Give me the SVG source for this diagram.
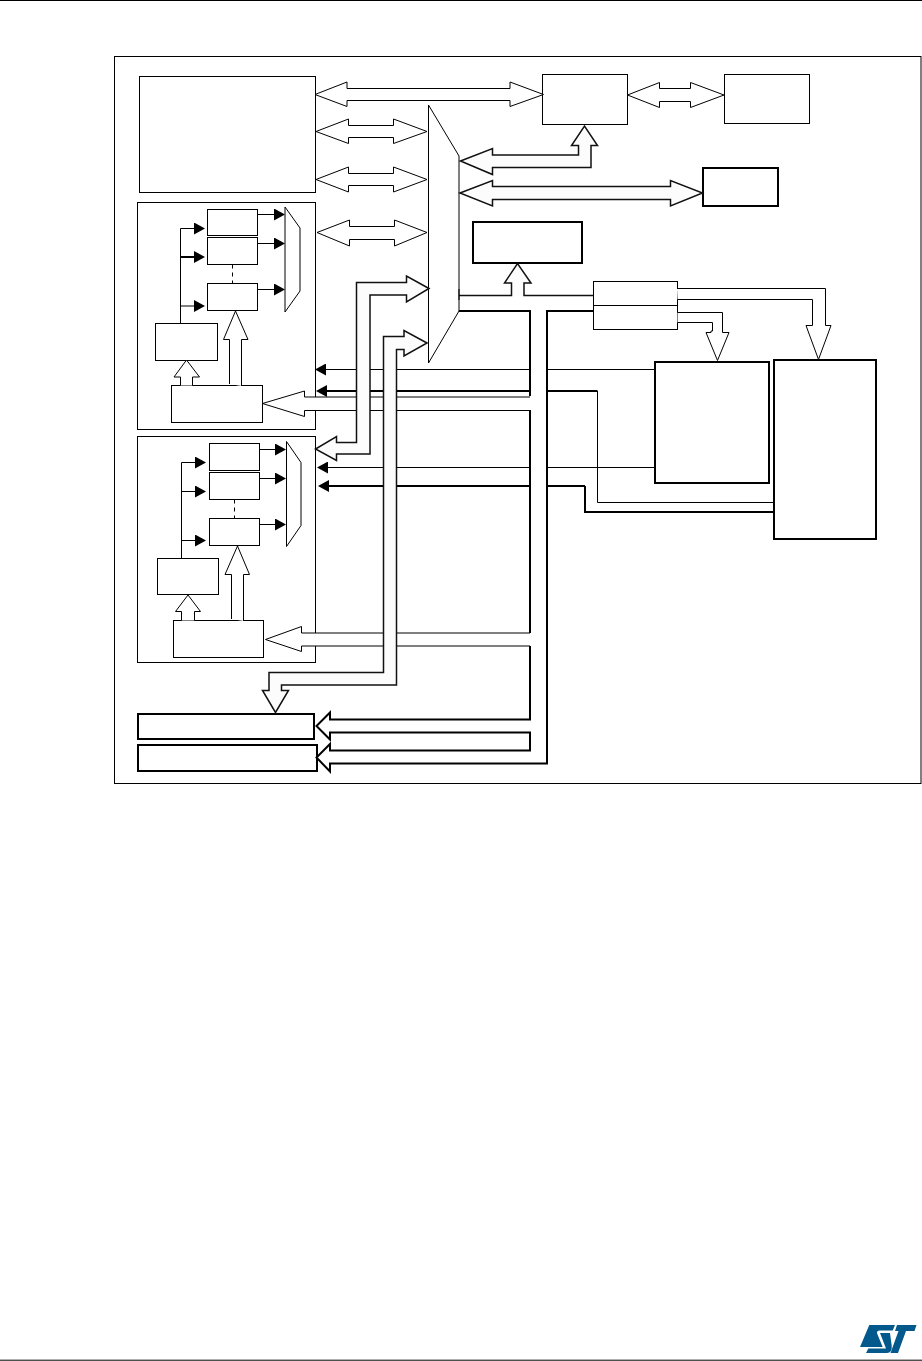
<svg xmlns="http://www.w3.org/2000/svg" width="922" height="1361" viewBox="0 0 922 1361">
<style>
.n{fill:#fff;stroke:#000;stroke-width:1}
.k{fill:#fff;stroke:#000;stroke-width:2}
.l{fill:none;stroke:#000;stroke-width:1}
.t{fill:none;stroke:#000;stroke-width:2}
.m{fill:none;stroke:#000;stroke-width:1;marker-end:url(#h)}
.mt{fill:none;stroke:#000;stroke-width:2;marker-end:url(#h)}
.d{fill:none;stroke:#000;stroke-width:1;stroke-dasharray:4 4}
.a{fill:#fff;stroke:#000;stroke-width:1}
.b{fill:#fcfcfc;stroke:#111;stroke-width:1.5}
</style>
<defs>
<marker id="h" markerUnits="userSpaceOnUse" viewBox="0 0 11 12" refX="0" refY="6" markerWidth="11" markerHeight="12" orient="auto"><path d="M0 0L11 6L0 12Z" fill="#000"/></marker>
</defs>
<rect width="922" height="1361" fill="#fff"/>
<g id="page">
<path class="l" d="M0 .5H922"/>
<path class="l" stroke-width="1.5" d="M0 1360.200H922"/>
<rect class="n" x="114.500" y="56.500" width="806.500" height="727"/>
<g id="logo" fill="#03588c">
<path d="M869.300 1325H895L892.700 1330.500H880Q876 1330.500 877.300 1334L882.700 1347H860Z"/>
<path d="M880 1333H890L891.700 1345.500Q892.300 1353 887 1353H866L868.300 1348.500H886Z"/>
<path d="M897 1325H916.500L914.500 1331H906L898 1353H890.500L898.500 1331H895Z"/>
</g>
</g>
<g id="memory"><rect class="n" x="139.500" y="76.500" width="176" height="116"/></g>
<g id="panel1">
<rect class="n" x="137.500" y="202.500" width="178" height="227"/>
<rect class="n" x="207.500" y="209.500" width="50" height="26"/>
<rect class="n" x="207.500" y="237.500" width="50" height="27"/>
<rect class="n" x="207.500" y="283.500" width="50" height="27"/>
<rect class="n" x="155.500" y="323.500" width="62" height="37"/>
<rect class="n" x="171.500" y="385.500" width="91" height="37"/>
<path class="n" d="M285 207L300 228V291L285 312Z"/>
<path class="l" d="M180.500 323.500V228.500"/>
<path class="m" d="M180.500 228.500H194"/>
<path class="mt" d="M180.500 257H194"/>
<path class="m" d="M180.500 306H194"/>
<path class="m" d="M257.500 214.500H274"/>
<path class="m" d="M257.500 243.500H274"/>
<path class="m" d="M257.500 289.500H274"/>
<path class="d" d="M232.500 264.500V283.500"/>
<path class="a" d="M229.500 384V339.500H223.500L235.500 311L248 339.500H241.500V386"/>
<path class="a" d="M180.500 385.500V377H174L186.500 360L199.500 377H192.500V385.500"/>
</g>
<g id="panel2">
<rect class="n" x="137.500" y="436.500" width="178" height="226"/>
<rect class="n" x="209.500" y="443.500" width="50" height="27"/>
<rect class="n" x="209.500" y="472.500" width="50" height="27"/>
<rect class="n" x="209.500" y="518.500" width="50" height="27"/>
<rect class="n" x="157.500" y="558.500" width="61" height="36"/>
<rect class="n" x="173.500" y="620.500" width="90" height="37"/>
<path class="n" d="M286.500 441.500L301 462.500V525.500L286.500 546.500Z"/>
<path class="l" d="M181.500 558.500V462.500"/>
<path class="m" d="M181.500 462.500H195"/>
<path class="m" d="M181.500 491.500H195"/>
<path class="m" d="M181.500 540.500H195"/>
<path class="m" d="M259.500 449.500H275"/>
<path class="m" d="M259.500 478.500H275"/>
<path class="m" d="M259.500 524.500H275"/>
<path class="d" d="M234.500 499.500V518.500"/>
<path class="a" d="M231.500 619V574.500H225L237.500 546L249.500 574.500H243.500V621"/>
<path class="a" d="M181.500 620.500V611.500H175.500L188 595L200.500 611.500H194.500V620.500"/>
</g>
<g id="bus-matrix"><path class="n" d="M428.500 105L459 156V311L428.500 363Z"/></g>
<g id="controller"><rect class="n" x="542.500" y="74.500" width="85" height="50"/></g>
<g id="external"><rect class="n" x="724.500" y="74.500" width="85" height="49"/></g>
<g id="peripheral"><rect class="k" x="703" y="168" width="75" height="38"/></g>
<g id="bridge"><rect class="k" x="473" y="222" width="109" height="41"/></g>
<g id="splitter">
<rect class="n" x="593.500" y="281.500" width="84" height="24"/>
<rect class="n" x="593.500" y="305.500" width="84" height="24"/>
</g>
<g id="blockB"><rect class="k" x="655" y="362" width="114" height="121"/></g>
<g id="blockC"><rect class="k" x="774" y="360" width="102" height="179"/></g>
<g id="bar1"><rect class="k" x="138" y="714" width="176" height="25"/></g>
<g id="bar2"><rect class="k" x="138" y="745" width="179" height="26"/></g>
<g id="connectors">
<path class="a" d="M315 94.500L347 82V88.500H510V82L543.500 94.500L510 106.500V100.500H347V106.500Z"/>
<path class="a" d="M316 131.500L348.500 119V125.500H393.500V119L427 131.500L393.500 143.500V137.500H348.500V143.500Z"/>
<path class="a" d="M316 179.500L348.500 167V173.500H393.500V167L427 179.500L393.500 192V185.500H348.500V192Z"/>
<path class="a" d="M317 232.500L349.500 220V226.500H394.500V220L427 232.500L394.500 246V239.500H349.500V246Z"/>
<path class="a" d="M627.500 95L659.500 82.500V88.500H690.500V82.500L724 95L690.500 107.500V101.500H659.500V107.500Z"/>
<path class="b" d="M460.500 161L492.500 148.500V155H578.500V145.500H571.500L584.500 126L597.500 145.500H591V167.500H492.500V174.500Z"/>
<path class="b" d="M460 193L492.500 180.500V186.500H670.500V180.500L702.500 193L670.500 206V199.500H492.500V206Z"/>
<path class="b" d="M459 295.500H511.500V283H504.500L517.500 263.500L531 283H524V295.500H593.500"/>
<path class="l" stroke-width="2" d="M459 289V300"/>
<path class="m" d="M654.500 369.500H326"/>
<path class="mt" d="M597.500 391H327"/>
<path class="l" d="M597.500 391V502.500H774"/>
<path class="m" d="M654.500 467.500H328"/>
<path class="mt" d="M585 486H329"/>
<path class="t" d="M585 486V512H774"/>
<path fill="#fff" d="M459 311H530V397H304.500V391L262.500 403.500L304.500 416.500V410.500H530V633H301.500V626.500L265.500 639.500L301.500 651.500V646H530V719.500H330V712.500L316.500 726L330 739.500V732.500H530V750.500H330V744L316.500 757.500L330 771.500V763.500H547V311H593.500Z"/>
<path class="l" d="M530 397H304.500V391L262.500 403.500L304.500 416.500V410.500H530M530 633H301.500V626.500L265.500 639.500L301.500 651.500V646H530"/>
<path class="t" d="M459 311H530V396M530 410V633M530 646V719.500H330V712.500L316.500 726L330 739.500V732.500H530V750.500H330V744L316.500 757.500L330 771.500V763.500H547V311H593.500"/>
<path class="b" d="M429 288.500L406.500 276V282.500H356.500V442.500H336.500V436.500L315.500 449L336.500 460.500V454H370V295H406.500V302Z"/>
<path class="b" d="M427 343L404 330.500V336.500H383.500V672.500H269V690.500H262.500L275.500 712.500L288.500 690.500H281.500V685H396.500V349.500H404V356Z"/>
<path class="a" d="M677 288.500H825.500V325.500H831L818.500 359.500L806 325.500H812.500V299.500H677.500"/>
<path class="a" d="M677.500 312.500H722.500V332.500H729L717.500 360.500L706 332.500H711V331H712.500V322.500H677.500"/>
</g>
</svg>
